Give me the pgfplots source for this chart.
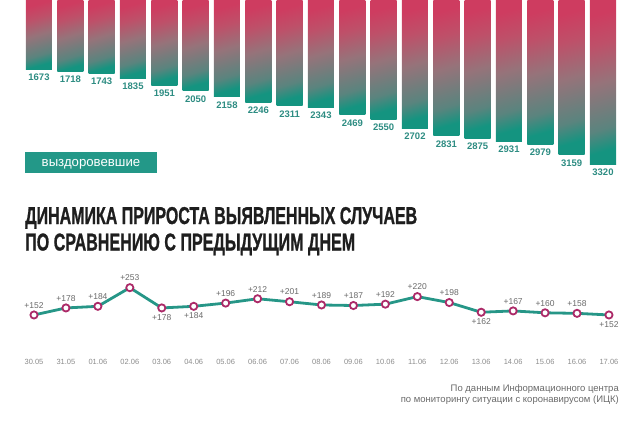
\documentclass[border=0pt]{standalone}
\usepackage{pgfplots}
\pgfplotsset{compat=1.18}
\usepackage{fontspec}
\setmainfont{Liberation Sans}
\newfontfamily\titlefont[BoldFeatures={FakeBold=1.2}]{Liberation Sans}
\definecolor{barA}{RGB}{206,60,96}
\definecolor{barA2}{RGB}{190,80,105}
\definecolor{barM}{RGB}{150,115,122}
\definecolor{barB2}{RGB}{90,132,126}
\definecolor{barB}{RGB}{20,148,128}
\definecolor{valtxt}{RGB}{45,140,130}
\definecolor{boxteal}{RGB}{35,152,136}
\definecolor{lineteal}{RGB}{38,150,135}
\definecolor{ring}{RGB}{172,42,104}
\definecolor{lbl}{RGB}{105,105,105}
\definecolor{datec}{RGB}{140,140,140}
\definecolor{titlec}{RGB}{30,30,30}
\pgfdeclareverticalshading{barsh}{100bp}{color(0bp)=(barB); color(25bp)=(barB); color(33bp)=(barB2); color(50bp)=(barM); color(64bp)=(barA2); color(75bp)=(barA); color(100bp)=(barA)}
\pgfplotsset{barsty/.style={draw=none, shade, shading=barsh, shading angle=16}}
\begin{document}
\begin{tikzpicture}
\path[use as bounding box] (0,0) rectangle (640pt,-425pt);

% recovered (bars hanging from the top)
\begin{axis}[at={(23.33pt,0pt)}, anchor=north west, scale only axis,
  width=595.33pt, height=180pt,
  xmin=-0.5, xmax=18.5, ymin=477, ymax=3597, y dir=reverse,
  hide axis, ybar, bar width=26pt, bar shift=0pt,
  nodes near coords, nodes near coords align=below,
  /pgf/number format/assume math mode=true,
  /pgf/number format/1000 sep={},
  every node near coord/.append style={font=\fontsize{9.5}{10}\selectfont\bfseries,
    text=valtxt, inner sep=0pt, yshift=-4.5pt}]
\addplot[barsty] coordinates {(0,1673)};
\addplot[barsty] coordinates {(1,1718)};
\addplot[barsty] coordinates {(2,1743)};
\addplot[barsty] coordinates {(3,1835)};
\addplot[barsty] coordinates {(4,1951)};
\addplot[barsty] coordinates {(5,2050)};
\addplot[barsty] coordinates {(6,2158)};
\addplot[barsty] coordinates {(7,2246)};
\addplot[barsty] coordinates {(8,2311)};
\addplot[barsty] coordinates {(9,2343)};
\addplot[barsty] coordinates {(10,2469)};
\addplot[barsty] coordinates {(11,2550)};
\addplot[barsty] coordinates {(12,2702)};
\addplot[barsty] coordinates {(13,2831)};
\addplot[barsty] coordinates {(14,2875)};
\addplot[barsty] coordinates {(15,2931)};
\addplot[barsty] coordinates {(16,2979)};
\addplot[barsty] coordinates {(17,3159)};
\addplot[barsty] coordinates {(18,3320)};
\end{axis}

\fill[boxteal] (25pt,-152pt) rectangle (157pt,-173pt);
\node[text=white, font=\fontsize{13.2}{15}\selectfont, anchor=base] at (91pt,-166.5pt) {выздоровевшие};

\node[anchor=base west, inner sep=0pt, text=titlec] at (25pt,-224pt)
  {\resizebox{392pt}{17pt}{\titlefont\bfseries ДИНАМИКА ПРИРОСТА ВЫЯВЛЕННЫХ СЛУЧАЕВ}};
\node[anchor=base west, inner sep=0pt, text=titlec] at (25pt,-250.5pt)
  {\resizebox{330pt}{17pt}{\titlefont\bfseries ПО СРАВНЕНИЮ С ПРЕДЫДУЩИМ ДНЕМ}};

% daily increase line
\begin{axis}[at={(18.03pt,-275pt)}, anchor=north west, scale only axis,
  width=606.9pt, height=54pt,
  xmin=-0.5, xmax=18.5, ymin=100, ymax=300, clip=false,
  axis y line=none, axis x line*=bottom, x axis line style={draw=none},
  xtick style={draw=none}, ytick=\empty,
  xtick={0,...,18},
  xticklabels={30.05,31.05,01.06,02.06,03.06,04.06,05.06,06.06,07.06,08.06,09.06,10.06,11.06,12.06,13.06,14.06,15.06,16.06,17.06},
  xticklabel style={font=\fontsize{7.5}{8}\selectfont, text=datec, yshift=-27pt},
  /pgf/number format/assume math mode=true]
\addplot[lineteal, line width=2.8pt, mark=*, mark size=3.6pt,
  mark options={draw=ring, fill=white, line width=1.8pt}] coordinates {
(0,152) (1,178) (2,184) (3,253) (4,178) (5,184) (6,196) (7,212) (8,201) (9,189)
(10,187) (11,192) (12,220) (13,198) (14,162) (15,167) (16,160) (17,158) (18,152)};
\addplot[draw=none, mark=none, nodes near coords={+\pgfmathprintnumber{\pgfplotspointmeta}},
  nodes near coords align=above,
  every node near coord/.append style={font=\fontsize{8.5}{9}\selectfont, text=lbl, inner sep=0pt, yshift=6.5pt}]
  coordinates {
(0,152) (1,178) (2,184) (3,253) (6,196) (7,212) (8,201) (9,189)
(10,187) (11,192) (12,220) (13,198) (15,167) (16,160) (17,158)};
\addplot[draw=none, mark=none, nodes near coords={+\pgfmathprintnumber{\pgfplotspointmeta}},
  nodes near coords align=below,
  every node near coord/.append style={font=\fontsize{8.5}{9}\selectfont, text=lbl, inner sep=0pt, yshift=-6.5pt}]
  coordinates {(4,178) (5,184) (14,162) (18,152)};
\end{axis}

\node[anchor=east, inner sep=0pt, text=lbl, font=\fontsize{9.5}{10}\selectfont] at (619pt,-389pt)
  {По данным Информационного центра};
\node[anchor=east, inner sep=0pt, text=lbl, font=\fontsize{9.5}{10}\selectfont] at (619pt,-400pt)
  {по мониторингу ситуации с коронавирусом (ИЦК)};
\end{tikzpicture}
\end{document}
